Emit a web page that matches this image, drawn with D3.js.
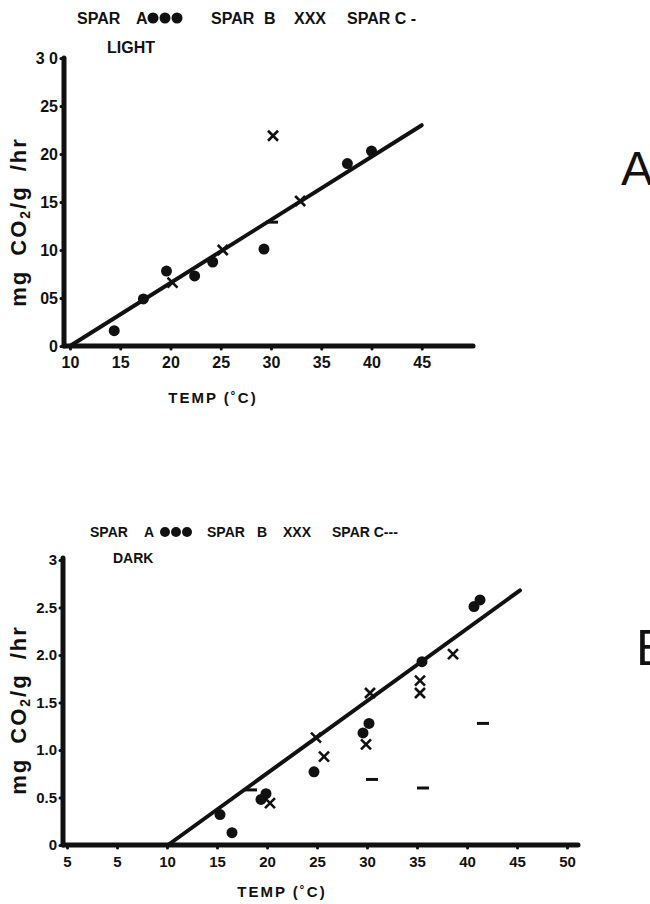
<!DOCTYPE html>
<html>
<head>
<meta charset="utf-8">
<script src="https://cdn.jsdelivr.net/npm/d3@7"></script>
<style>
  body { margin: 0; background: #fff; }
  svg { display: block; }
  text { font-family: "Liberation Sans", Arial, sans-serif; font-weight: bold; fill: #111; }
  .axis-line { stroke: #111; stroke-width: 5; stroke-linecap: round; }
  .fit-line { stroke: #111; stroke-width: 4; stroke-linecap: round; fill: none; }
  .tick line { stroke: #111; stroke-width: 3; stroke-linecap: round; }
  .dot { fill: #111; }
  .cross { stroke: #111; stroke-width: 2.6; fill: none; }
  .dash { stroke: #111; stroke-width: 3; }
</style>
</head>
<body>
<svg id="chart" width="650" height="904"></svg>
<script>
// ---- LIGHT (panel A) ----
const lightA_temp = [14.4, 17.3, 19.6, 22.4, 24.2, 29.3, 37.6, 40.0];
const lightA_rate = [0.16, 0.49, 0.78, 0.73, 0.875, 1.01, 1.90, 2.03];
const lightB_temp = [20.2, 25.2, 30.2, 32.9];
const lightB_rate = [0.66, 1.0, 2.19, 1.51];
const lightC_temp = [30.1];
const lightC_rate = [1.29];
const lightFit_temp = [10, 45];
const lightFit_rate = [0, 2.3];
const lightXTicks = [10, 15, 20, 25, 30, 35, 40, 45];
const lightXLabels = ["10", "15", "20", "25", "30", "35", "40", "45"];
const lightYTicks = [0, 0.5, 1, 1.5, 2, 2.5, 3];
const lightYLabels = ["0", "05", "10", "15", "20", "25", "3 0"];

// ---- DARK (panel B) ----
const darkA_temp = [15.3, 16.5, 19.4, 19.9, 24.7, 29.6, 30.2, 35.5, 40.7, 41.3];
const darkA_rate = [0.32, 0.13, 0.48, 0.54, 0.77, 1.18, 1.28, 1.93, 2.51, 2.58];
const darkB_temp = [20.3, 24.9, 25.7, 29.9, 30.3, 35.3, 35.3, 38.6];
const darkB_rate = [0.44, 1.13, 0.93, 1.06, 1.6, 1.73, 1.6, 2.01];
const darkC_temp = [18.4, 30.5, 35.6, 41.6];
const darkC_rate = [0.58, 0.69, 0.6, 1.28];
const darkFit_temp = [10.1, 45.3];
const darkFit_rate = [0, 2.68];
const darkXTicks = [0, 5, 10, 15, 20, 25, 30, 35, 40, 45, 50];
const darkXLabels = ["5", "5", "10", "15", "20", "25", "30", "35", "40", "45", "50"];
const darkYTicks = [0, 0.5, 1, 1.5, 2, 2.5, 3];
const darkYLabels = ["0", "0.5", "1.0", "1.5", "2.0", "2.5", "3"];

const zip = (xs, ys) => xs.map((x, i) => [x, ys[i]]);

const svg = d3.select("#chart");

function panel(cfg) {
  const { x, y, xAxisY, yAxisX, xEnd, yTop, fontSize } = cfg;
  const g = svg.append("g");

  // axis lines
  g.append("line").attr("class", "axis-line")
    .attr("x1", yAxisX).attr("x2", xEnd).attr("y1", xAxisY).attr("y2", xAxisY);
  g.append("line").attr("class", "axis-line")
    .attr("x1", yAxisX).attr("x2", yAxisX).attr("y1", yTop).attr("y2", xAxisY);

  const xAxis = d3.axisBottom(x)
    .tickValues(cfg.xTicks)
    .tickFormat((d, i) => cfg.xLabels[i])
    .tickSize(3)
    .tickPadding(8);
  const yAxis = d3.axisLeft(y)
    .tickValues(cfg.yTicks)
    .tickFormat((d, i) => cfg.yLabels[i])
    .tickSize(3)
    .tickPadding(3);

  g.append("g")
    .attr("transform", `translate(0, ${xAxisY})`)
    .call(xAxis)
    .call((a) => a.select(".domain").remove())
    .selectAll("text")
    .style("font-size", fontSize + "px")
    .style("font-family", '"Liberation Sans", Arial, sans-serif')
    .style("font-weight", "bold")
    .attr("fill", "#111");

  g.append("g")
    .attr("transform", `translate(${yAxisX}, 0)`)
    .call(yAxis)
    .call((a) => a.select(".domain").remove())
    .selectAll("text")
    .style("font-size", fontSize + "px")
    .style("font-family", '"Liberation Sans", Arial, sans-serif')
    .style("font-weight", "bold")
    .attr("fill", "#111");

  // regression line
  g.append("path")
    .attr("class", "fit-line")
    .attr("d", d3.line(([t]) => x(t), ([, r]) => y(r))(cfg.fit));

  // spar A dots
  g.selectAll(".dot")
    .data(cfg.a)
    .join("circle")
    .attr("class", "dot")
    .attr("cx", ([t]) => x(t))
    .attr("cy", ([, r]) => y(r))
    .attr("r", cfg.dotR);

  // spar B crosses
  const s = cfg.crossSize;
  g.selectAll(".cross")
    .data(cfg.b)
    .join("path")
    .attr("class", "cross")
    .attr("d", ([t, r]) => {
      const cx = x(t), cy = y(r);
      return `M${cx - s},${cy - s}L${cx + s},${cy + s}M${cx - s},${cy + s}L${cx + s},${cy - s}`;
    });

  // spar C dashes
  g.selectAll(".dash")
    .data(cfg.c)
    .join("line")
    .attr("class", "dash")
    .attr("x1", ([t]) => x(t) - 6)
    .attr("x2", ([t]) => x(t) + 6)
    .attr("y1", ([, r]) => y(r))
    .attr("y2", ([, r]) => y(r));

  // y title
  const yt = g.append("text")
    .attr("transform", `translate(${cfg.yTitleX}, ${cfg.yTitleY}) rotate(-90)`)
    .attr("text-anchor", "middle")
    .style("font-size", "22px")
    .style("letter-spacing", "2px")
    .style("word-spacing", "6px");
  yt.append("tspan").text("mg CO");
  yt.append("tspan").attr("baseline-shift", "-30%").style("font-size", "14px").text("2");
  yt.append("tspan").text("/g /hr");

  // x title
  g.append("text")
    .attr("x", cfg.xTitleX)
    .attr("y", cfg.xTitleY)
    .attr("text-anchor", "middle")
    .style("font-size", "15px")
    .style("letter-spacing", "2px")
    .text("TEMP (\u02DAC)");

  return g;
}

const xL = d3.scaleLinear().domain([10, 50]).range([70, 472]);
const yL = d3.scaleLinear().domain([0, 3]).range([346, 58]);

panel({
  x: xL, y: yL, xAxisY: 346, yAxisX: 64, xEnd: 473, yTop: 58, fontSize: 16,
  xTicks: lightXTicks, xLabels: lightXLabels,
  yTicks: lightYTicks, yLabels: lightYLabels,
  fit: zip(lightFit_temp, lightFit_rate),
  a: zip(lightA_temp, lightA_rate),
  b: zip(lightB_temp, lightB_rate),
  c: zip(lightC_temp, lightC_rate),
  dotR: 5.5, crossSize: 5,
  yTitleX: 26, yTitleY: 222,
  xTitleX: 213, xTitleY: 403,
});

const xD = d3.scaleLinear().domain([0, 50]).range([67, 567]);
const yD = d3.scaleLinear().domain([0, 3]).range([845, 560]);

panel({
  x: xD, y: yD, xAxisY: 845, yAxisX: 63, xEnd: 578, yTop: 558, fontSize: 15,
  xTicks: darkXTicks, xLabels: darkXLabels,
  yTicks: darkYTicks, yLabels: darkYLabels,
  fit: zip(darkFit_temp, darkFit_rate),
  a: zip(darkA_temp, darkA_rate),
  b: zip(darkB_temp, darkB_rate),
  c: zip(darkC_temp, darkC_rate),
  dotR: 5.5, crossSize: 5,
  yTitleX: 26, yTitleY: 710,
  xTitleX: 282, xTitleY: 897,
});

// legends
function legend(items, size) {
  items.forEach(([txt, lx, ly]) => {
    svg.append("text")
      .attr("x", lx)
      .attr("y", ly)
      .style("font-size", size + "px")
      .text(txt);
  });
}

legend([
  ["SPAR", 77, 24], ["A", 136, 24], ["SPAR", 211, 24], ["B", 264, 24],
  ["XXX", 294, 24], ["SPAR C -", 347, 24], ["LIGHT", 107, 53],
], 16);
svg.selectAll(".leg-a")
  .data([153, 165, 177])
  .join("circle")
  .attr("class", "leg-a")
  .attr("cx", (d) => d)
  .attr("cy", 18)
  .attr("r", 5.5)
  .attr("fill", "#111");

legend([
  ["SPAR", 90, 537], ["A", 144, 537], ["SPAR", 207, 537], ["B", 257, 537],
  ["XXX", 283, 537], ["SPAR C---", 332, 537], ["DARK", 113, 563],
], 14);
svg.selectAll(".leg-b")
  .data([165, 176, 187])
  .join("circle")
  .attr("class", "leg-b")
  .attr("cx", (d) => d)
  .attr("cy", 532)
  .attr("r", 5)
  .attr("fill", "#111");

// panel letters (cut by the right edge, as in the source figure)
svg.append("text").attr("x", 621).attr("y", 185)
  .style("font-size", "48px").style("font-weight", "normal").text("A");
svg.append("text").attr("x", 636).attr("y", 665)
  .style("font-size", "50px").style("font-weight", "normal").text("B");
</script>
</body>
</html>
